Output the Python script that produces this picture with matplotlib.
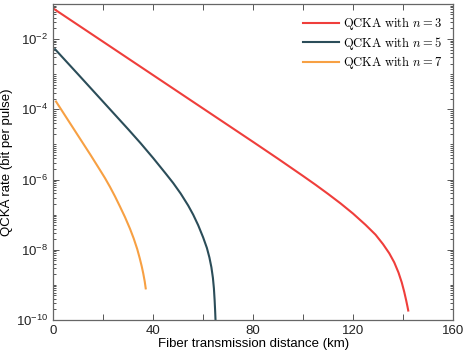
import numpy as np
import matplotlib
matplotlib.use("Agg")
import matplotlib.pyplot as plt
from matplotlib.ticker import LogLocator, FixedLocator, NullFormatter
from matplotlib.font_manager import FontProperties

plt.rcParams['font.family'] = ['Liberation Sans', 'DejaVu Sans']
plt.rcParams['mathtext.fontset'] = 'custom'
plt.rcParams['mathtext.rm'] = 'Liberation Sans'
plt.rcParams['mathtext.it'] = 'Liberation Sans:italic'
plt.rcParams['mathtext.bf'] = 'Liberation Sans:bold'

# distance (km) and log10 of rate
x_n3 = [0.4, 20, 40, 60, 80, 90, 100, 105, 110, 115, 120, 125, 129, 132, 134.5, 136.5, 138.2,
        139.5, 140.5, 141.3, 141.8, 142.1]
y_n3 = [-1.15, -2.08, -3.03, -3.98, -4.93, -5.41, -5.90, -6.15, -6.41, -6.68, -6.97, -7.29, -7.57, -7.84,
        -8.10, -8.36, -8.65, -8.93, -9.20, -9.45, -9.62, -9.73]

x_n5 = [0.7, 10, 20, 30, 35, 40, 45, 48, 51, 54, 56, 58, 60, 61.5, 62.5, 63.3, 63.9, 64.3, 64.6, 64.8, 65.0]
y_n5 = [-2.29, -3.01, -3.79, -4.57, -4.97, -5.39, -5.83, -6.10, -6.40, -6.74, -7.00, -7.30, -7.65, -7.95,
        -8.22, -8.50, -8.80, -9.10, -9.45, -9.75, -10.1]

x_n7 = [1.1, 6, 12, 15, 18.7, 20.7, 22.7, 24.7, 26.7, 28.7, 30.7, 32.2, 33.6, 34.6, 35.4, 36.0, 36.6, 37.0]
y_n7 = [-3.78, -4.32, -4.98, -5.31, -5.73, -5.96, -6.21, -6.48, -6.77, -7.07, -7.40, -7.68, -7.98, -8.24,
        -8.47, -8.67, -8.90, -9.10]

labels = [r'$\mathrm{QCKA\ with\ }n=3$', r'$\mathrm{QCKA\ with\ }n=5$', r'$\mathrm{QCKA\ with\ }n=7$']
colors = ['#ef3e3b', '#2b4d59', '#f7a043']

fig = plt.figure(figsize=(4.63, 3.54), dpi=100)
ax = fig.add_axes([0.1151, 0.096, 0.8632, 0.893])

for xs, ys, lab, c in zip([x_n3, x_n5, x_n7], [y_n3, y_n5, y_n7], labels, colors):
    ax.plot(xs, 10.0 ** np.array(ys), color=c, lw=1.5, label=lab)

ax.set_yscale('log')
ax.set_xlim(0, 160)
ax.set_ylim(1e-10, 1e-1)

ax.xaxis.set_major_locator(FixedLocator(np.arange(0, 161, 20)))
ax.set_xticklabels([str(v) if v % 40 == 0 else '' for v in range(0, 161, 20)])
ax.yaxis.set_major_locator(FixedLocator([1e-10, 1e-8, 1e-6, 1e-4, 1e-2]))
ax.yaxis.set_minor_locator(LogLocator(base=10, subs=np.arange(1, 10), numticks=30))
ax.yaxis.set_minor_formatter(NullFormatter())

ax.tick_params(which='both', direction='in', top=True, right=True, colors='#555555',
               labelcolor='#222222', labelsize=9.5, width=0.7)
ax.tick_params(which='major', length=4)
ax.tick_params(which='minor', length=2)
for s in ax.spines.values():
    s.set_color('#666666')
    s.set_linewidth(0.9)

ax.set_xlabel('Fiber transmission distance (km)', fontsize=9.5, labelpad=1)
ax.set_ylabel('QCKA rate (bit per pulse)', fontsize=9.5, labelpad=2)

leg_font = FontProperties(size=9, math_fontfamily='cm')
ax.legend(loc='upper right', frameon=False, prop=leg_font, handlelength=2.9,
          labelspacing=0.2, handletextpad=0.3, borderaxespad=0.5)

fig.savefig('out.png', dpi=100)
